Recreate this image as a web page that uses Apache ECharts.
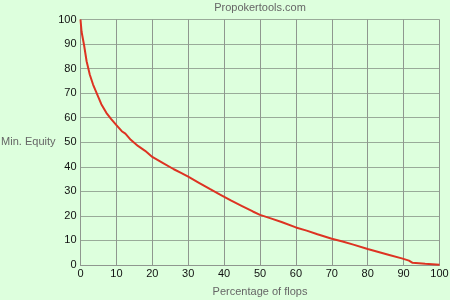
<!DOCTYPE html>
<html>
<head>
<meta charset="utf-8">
<script src="https://cdn.jsdelivr.net/npm/echarts@6/dist/echarts.min.js"></script>
<style>
html,body{margin:0;padding:0;background:#ddffdd;}
#c{width:450px;height:300px;}
</style>
</head>
<body>
<div id="c"></div>
<script>
var titleText = "Propokertools.com";
var xName = "Percentage of flops";
var yName = "Min. Equity";
var xs = [0, 0.3, 1, 1.7, 2.6, 3.5, 4.5, 5.8, 7.2, 8.5, 10, 11.5, 12.5, 14, 16, 18, 20, 23, 26, 28, 30, 33, 36, 39, 42, 45, 48, 50, 53, 56, 60, 63, 66, 70, 73, 76, 80, 83, 86, 89.5, 91.5, 92.5, 96, 100];
var ys = [100, 95, 89.5, 83, 77.5, 73.5, 70, 65.5, 62, 59.5, 57, 54.5, 53.5, 51, 48.5, 46.5, 44, 41.5, 39, 37.5, 36, 33.5, 31, 28.6, 26.2, 24, 21.8, 20.4, 19, 17.5, 15.3, 14, 12.5, 10.7, 9.6, 8.3, 6.5, 5.3, 4.1, 2.7, 1.8, 0.9, 0.5, 0.1];
var data = xs.map(function(x, i){ return [x, ys[i]]; });
var font = "'Liberation Sans', Arial, sans-serif";
var chart = echarts.init(document.getElementById('c'));
chart.setOption({
  backgroundColor: '#ddffdd',
  animation: false,
  title: {
    text: titleText, left: 260, top: 2, textAlign: 'center', padding: 0,
    textStyle: {fontSize: 11, fontWeight: 'normal', color: '#666', fontFamily: font}
  },
  grid: {left: 80.5, right: 10.5, top: 19.5, bottom: 35, show: false, containLabel: false, outerBoundsMode: 'none'},
  xAxis: {
    type: 'value', min: 0, max: 100, interval: 10,
    name: xName, nameLocation: 'middle', nameGap: 21, nameMoveOverlap: false,
    nameTextStyle: {fontSize: 11, color: '#666', fontFamily: font},
    axisLine: {show: true, lineStyle: {color: '#8f978f', width: 1}},
    axisTick: {show: false},
    axisLabel: {fontSize: 11, color: '#111', margin: 3, fontFamily: font},
    splitLine: {show: true, lineStyle: {color: '#8f978f', width: 1}}
  },
  yAxis: {
    type: 'value', min: 0, max: 100, interval: 10,
    name: yName, nameLocation: 'middle', nameGap: 25, nameRotate: 0, nameMoveOverlap: false,
    nameTextStyle: {fontSize: 11, color: '#666', fontFamily: font, padding: [11, 0, 0, 0]},
    axisLine: {show: true, lineStyle: {color: '#8f978f', width: 1}},
    axisTick: {show: false},
    axisLabel: {fontSize: 11, color: '#111', margin: 4, fontFamily: font},
    splitLine: {show: true, lineStyle: {color: '#99ab99', width: 1}}
  },
  series: [{
    type: 'line', data: data, showSymbol: false, smooth: false,
    lineStyle: {color: '#dd3322', width: 2}
  }]
});
</script>
</body>
</html>
